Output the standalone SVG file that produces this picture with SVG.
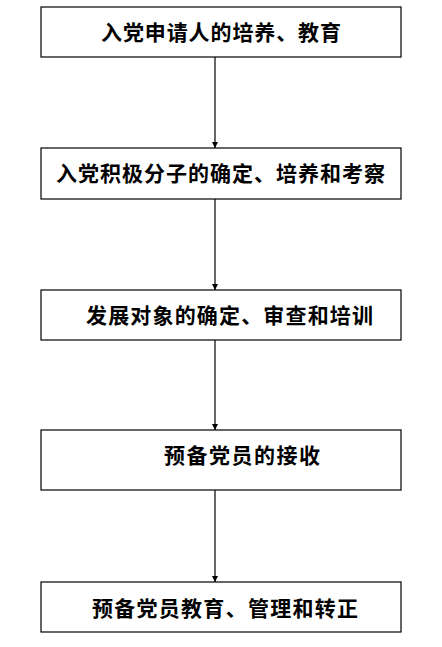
<svg xmlns="http://www.w3.org/2000/svg" width="442" height="647" viewBox="0 0 442 647">
<style>
.box{fill:#fff;stroke:#000;stroke-width:1.2}
.t{font-family:"Noto Sans CJK SC","Noto Sans CJK TC",sans-serif;font-weight:bold;font-size:21px;fill:#000}
.c{stroke:#000;stroke-width:1.2;fill:none}
</style>
<defs>
<marker id="ah" markerWidth="6" markerHeight="6" refX="6" refY="3" orient="auto" markerUnits="userSpaceOnUse">
<path d="M0,0 L6,3 L0,6 Z" fill="#000"/>
</marker>
</defs>
<rect width="442" height="647" fill="#fff"/>
<g id="connectors">
<line class="c" x1="215" y1="57" x2="215" y2="148" marker-end="url(#ah)"/>
<line class="c" x1="215" y1="199" x2="215" y2="290" marker-end="url(#ah)"/>
<line class="c" x1="215" y1="340" x2="215" y2="430" marker-end="url(#ah)"/>
<line class="c" x1="215" y1="490" x2="215" y2="582" marker-end="url(#ah)"/>
</g>
<g id="n1">
<rect class="box" x="41" y="7" width="360" height="50"/>
<text class="t" x="101" y="40" textLength="240" lengthAdjust="spacing">入党申请人的培养、教育</text>
</g>
<g id="n2">
<rect class="box" x="41" y="148" width="360" height="51"/>
<text class="t" x="56" y="181" textLength="329" lengthAdjust="spacing">入党积极分子的确定、培养和考察</text>
</g>
<g id="n3">
<rect class="box" x="41" y="290" width="360" height="50"/>
<text class="t" x="86" y="323" textLength="287" lengthAdjust="spacing">发展对象的确定、审查和培训</text>
</g>
<g id="n4">
<rect class="box" x="41" y="430" width="360" height="60"/>
<text class="t" x="164" y="463" textLength="156" lengthAdjust="spacing">预备党员的接收</text>
</g>
<g id="n5">
<rect class="box" x="41" y="582" width="360" height="50"/>
<text class="t" x="92" y="616" textLength="266" lengthAdjust="spacing">预备党员教育、管理和转正</text>
</g>
</svg>
